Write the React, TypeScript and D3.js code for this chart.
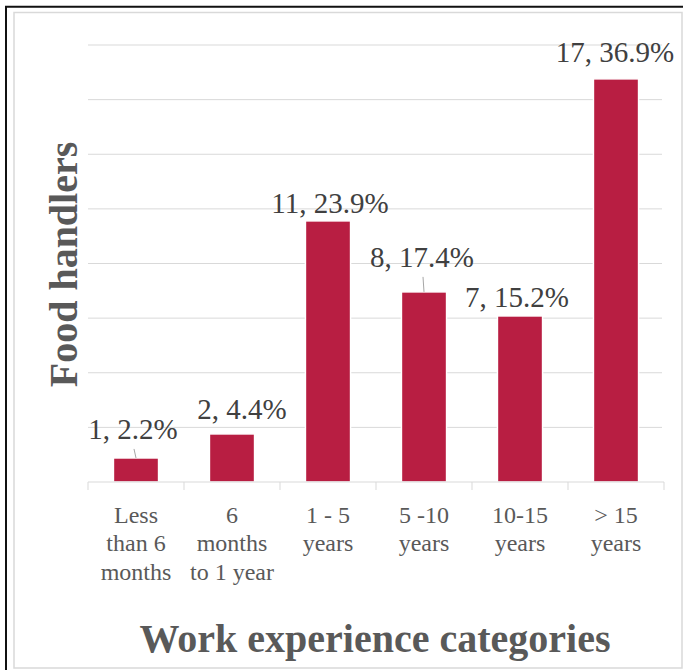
import React from "react";
import * as d3 from "d3";

// Work experience of food handlers: head count and share per category
const categories = ["lt6m", "6m1y", "1-5", "5-10", "10-15", "gt15"];
const categoryLines = [
  ["Less", "than 6", "months"],
  ["6", "months", "to 1 year"],
  ["1 - 5", "years"],
  ["5 -10", "years"],
  ["10-15", "years"],
  ["> 15", "years"],
];
const counts = [1, 2, 11, 8, 7, 17];
const percents = [2.2, 4.4, 23.9, 17.4, 15.2, 36.9];
const gridTicks = [0, 5, 10, 15, 20, 25, 30, 35, 40];

// label nudges relative to bar top-centre, and whether a leader line is drawn
const labelNudge = [
  { dx: -3, dy: -19, leader: true },
  { dx: 10, dy: -15, leader: false },
  { dx: 2, dy: -8, leader: false },
  { dx: -2, dy: -25, leader: true },
  { dx: -3, dy: -9, leader: false },
  { dx: -1, dy: -17, leader: false },
];

const W = 683;
const H = 670;
const BAR = "#B81E42";
const GRID = "#D9D9D9";
const FONT = "'Liberation Serif', 'Times New Roman', serif";

export default function App() {
  const x = d3
    .scaleBand<string>()
    .domain(categories)
    .range([88, 664])
    .paddingInner(0.53)
    .paddingOuter(0.265);
  const y = d3.scaleLinear().domain([0, 40]).range([482, 45]);
  const step = x.step();
  const left = 88;
  const right = 662;

  return (
    <svg
      width={W}
      height={H}
      style={{ position: "absolute", left: 0, top: 0, background: "#fff" }}
    >
      {/* outer frame */}
      <path d={`M6,${H} V6.7 H${W}`} fill="none" stroke="#111" strokeWidth={2} />
      <rect x={14} y={12.5} width={668} height={655.5} fill="none" stroke={GRID} strokeWidth={1.5} />

      {/* gridlines */}
      {gridTicks.slice(1).map((t) => (
        <line key={t} x1={left} x2={right} y1={y(t)} y2={y(t)} stroke={GRID} strokeWidth={1} />
      ))}

      {/* bars */}
      {categories.map((c, i) => (
        <rect
          key={c}
          x={x(c)!}
          y={y(percents[i])}
          width={x.bandwidth()}
          height={y(0) - y(percents[i])}
          fill={BAR}
          stroke="#fff"
          strokeWidth={1.5}
        />
      ))}

      {/* category axis */}
      <line x1={left} x2={left + step * categories.length} y1={y(0)} y2={y(0)} stroke={GRID} strokeWidth={1} />
      {d3.range(categories.length + 1).map((k) => (
        <line
          key={k}
          x1={left + k * step}
          x2={left + k * step}
          y1={y(0)}
          y2={y(0) + 8}
          stroke={GRID}
          strokeWidth={1}
        />
      ))}
      {categories.map((c, i) => (
        <text
          key={c}
          textAnchor="middle"
          fontFamily={FONT}
          fontSize={24}
          fill="#595959"
        >
          {categoryLines[i].map((line, j) => (
            <tspan key={j} x={x(c)! + x.bandwidth() / 2} y={522.5 + j * 28.8}>
              {line}
            </tspan>
          ))}
        </text>
      ))}

      {/* data labels */}
      {categories.map((c, i) => {
        const cx = x(c)! + x.bandwidth() / 2;
        const top = y(percents[i]);
        const n = labelNudge[i];
        const lx = cx + n.dx;
        const ly = top + n.dy;
        return (
          <g key={c}>
            {n.leader && (
              <line
                x1={lx + 1}
                y1={ly + 10}
                x2={cx}
                y2={top}
                stroke="#A6A6A6"
                strokeWidth={1}
              />
            )}
            <text
              x={lx}
              y={ly}
              textAnchor="middle"
              fontFamily={FONT}
              fontSize={29}
              fill="#404040"
            >
              {`${counts[i]}, ${percents[i]}%`}
            </text>
          </g>
        );
      })}

      {/* axis titles */}
      <text
        transform={`translate(77,264.5) rotate(-90)`}
        textAnchor="middle"
        fontFamily={FONT}
        fontWeight="bold"
        fontSize={40}
        fill="#595959"
      >
        Food handlers
      </text>
      <text
        x={375}
        y={652}
        textAnchor="middle"
        fontFamily={FONT}
        fontWeight="bold"
        fontSize={40}
        fill="#595959"
      >
        Work experience categories
      </text>
    </svg>
  );
}
